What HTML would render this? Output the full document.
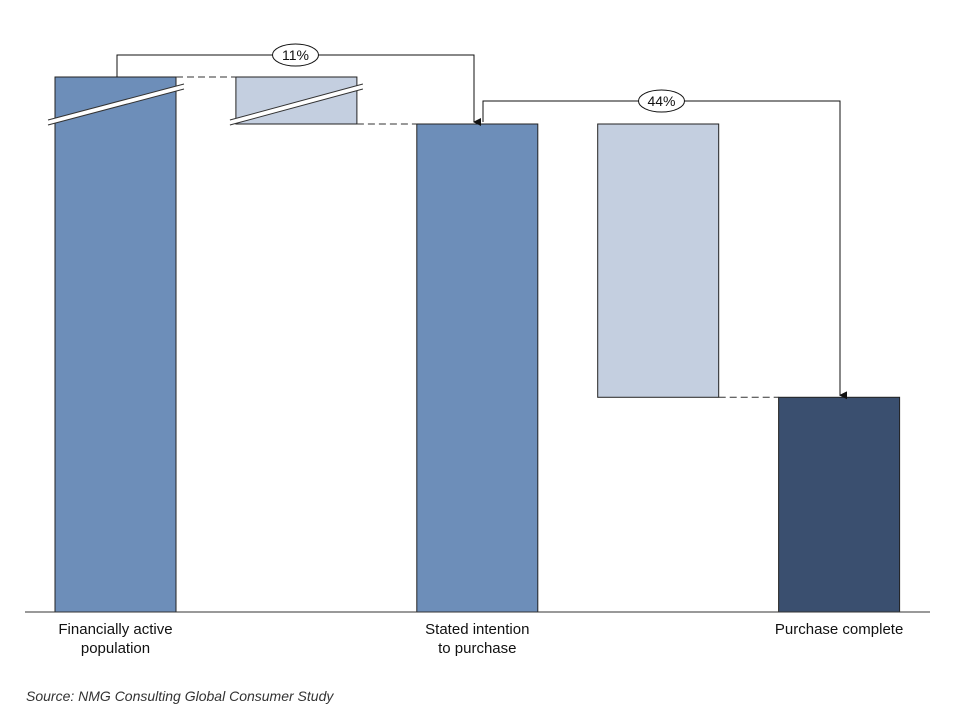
<!DOCTYPE html>
<html><head><meta charset="utf-8"><style>
body{margin:0;background:#fff}
svg{display:block;font-family:"Liberation Sans",Arial,sans-serif}
</style></head><body>
<svg id="c" width="960" height="720" viewBox="0 0 960 720"></svg>
<script>
const categories=["Financially active population","Dropout 1","Stated intention to purchase","Dropout 2","Purchase complete"];
const intentionValue=100;
const completeValue=44;
const rateLabels=["11%","44%"];
const xLabels=[["Financially active","population"],["Stated intention","to purchase"],["Purchase complete"]];

const NS="http://www.w3.org/2000/svg";
const svg=document.getElementById("c");
function mk(t,a,p){const e=document.createElementNS(NS,t);for(const k in a)e.setAttribute(k,a[k]);(p||svg).appendChild(e);return e;}
const base=612, topY=124;
function y(v){return base-(v/intentionValue)*(base-topY);}
const bw=121;
function bx(i){return 55+i*180.9;}
const breakExt=47;
const yInt=y(intentionValue), yComp=y(completeValue), yPop=yInt-breakExt;

let r;
r=mk("rect",{x:bx(0),y:yPop,width:bw,height:base-yPop,fill:"#6d8eb9",stroke:"#222","stroke-width":1});

r=mk("rect",{x:bx(1),y:yPop,width:bw,height:yInt-yPop,fill:"#c4cfe0",stroke:"#222","stroke-width":1});

r=mk("rect",{x:bx(2),y:yInt,width:bw,height:base-yInt,fill:"#6d8eb9",stroke:"#222","stroke-width":1});

r=mk("rect",{x:bx(3),y:yInt,width:bw,height:yComp-yInt,fill:"#c4cfe0",stroke:"#222","stroke-width":1});

r=mk("rect",{x:bx(4),y:yComp,width:bw,height:base-yComp,fill:"#3a4f6f",stroke:"#222","stroke-width":1});


// break marks
[[bx(0)-7,bx(0)+bw+8],[bx(1)-6,bx(1)+bw+6]].forEach(([a,b],i)=>{
  const g=mk("g",{});
  
  mk("polygon",{points:`${a},${yInt-4} ${b},${yInt-40} ${b},${yInt-35} ${a},${yInt+1}`,fill:"#fff"},g);
  mk("line",{x1:a,y1:yInt-4,x2:b,y2:yInt-40,stroke:"#333","stroke-width":1},g);
  mk("line",{x1:a,y1:yInt+1,x2:b,y2:yInt-35,stroke:"#333","stroke-width":1},g);
});

// dashed connectors
[[bx(0)+bw,bx(1),yPop],[bx(1)+bw,bx(2),yInt],[bx(3)+bw,bx(4),yComp]].forEach(([a,b,yy],i)=>{
  const l=mk("line",{x1:a,y1:yy,x2:b,y2:yy,stroke:"#333","stroke-width":1,"stroke-dasharray":"7,4"});
  
});

// axis
r=mk("line",{x1:25,y1:base,x2:930,y2:base,stroke:"#333","stroke-width":1});


// arrows
mk("defs",{}).innerHTML='<marker id="ah" markerWidth="8" markerHeight="8" refX="4" refY="7" orient="auto" markerUnits="userSpaceOnUse"><path d="M0,0 L8,0 L4,8 z" fill="#111"/></marker>';
function arrow(x1,y1,ly,x2,y2,label,name){
  const g=mk("g",{});
  
  mk("polyline",{points:`${x1},${y1} ${x1},${ly} ${x2},${ly} ${x2},${y2}`,fill:"none",stroke:"#111","stroke-width":1,"marker-end":"url(#ah)"},g);
  const cx=(x1+x2)/2;
  mk("ellipse",{cx:cx,cy:ly,rx:23,ry:11,fill:"#fff",stroke:"#111","stroke-width":1},g);
  const t=mk("text",{x:cx,y:ly+5,"text-anchor":"middle","font-size":14,fill:"#111"},g);t.textContent=label;
}
arrow(117,yPop,yPop-22,474,yInt-2,rateLabels[0],"rate-arrow-intention");
arrow(483,yInt-2,yInt-23,840,yComp-2,rateLabels[1],"rate-arrow-complete");

// x labels
[0,2,4].forEach((bi,i)=>{
  const t=mk("text",{x:bx(bi)+bw/2,y:634,"text-anchor":"middle","font-size":15,fill:"#111"});
  
  xLabels[i].forEach((s,j)=>{const ts=mk("tspan",{x:bx(bi)+bw/2,dy:j?19:0},t);ts.textContent=s;});
});

const s=mk("text",{x:26,y:701,"font-size":14,"font-style":"italic",fill:"#333"});

s.textContent="Source: NMG Consulting Global Consumer Study";
</script>
</body></html>
